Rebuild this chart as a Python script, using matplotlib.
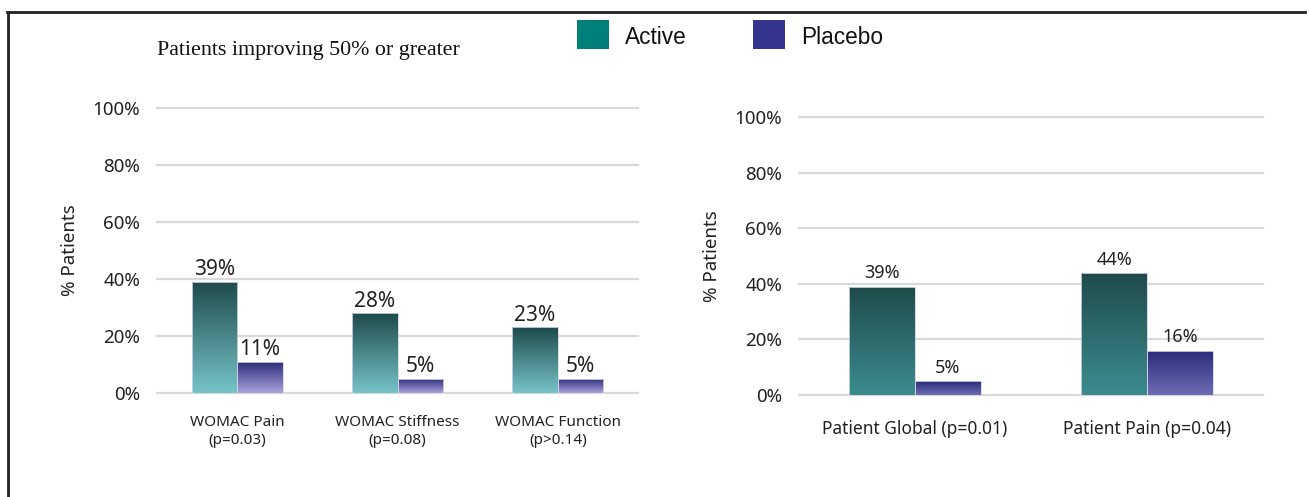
import numpy as np
import matplotlib.pyplot as plt
from matplotlib.patches import Rectangle
from matplotlib.colors import LinearSegmentedColormap
from matplotlib.lines import Line2D

# data
left_cats = ['WOMAC Pain\n(p=0.03)', 'WOMAC Stiffness\n(p=0.08)', 'WOMAC Function\n(p>0.14)']
left_active = [39, 28, 23]
left_placebo = [11, 5, 5]

right_cats = ['Patient Global (p=0.01)', 'Patient Pain (p=0.04)']
right_active = [39, 44]
right_placebo = [5, 16]

yticks = [0, 20, 40, 60, 80, 100]
legend_labels = ['Active', 'Placebo']
legend_colors = ['#007f7b', '#35358f']

SANS = 'Noto Sans'
TXT = '#222222'
W, H = 1309, 497


def grad_bars(ax, x, vals, width, top, bottom):
    bars = ax.bar(x, vals, width, color=top, edgecolor='none', zorder=2)
    cmap = LinearSegmentedColormap.from_list('g', [bottom, top])
    g = np.linspace(0, 1, 256).reshape(-1, 1)
    for b in bars:
        x0, y0 = b.get_x(), b.get_y()
        w, h = b.get_width(), b.get_height()
        im = ax.imshow(g, cmap=cmap, origin='lower', aspect='auto',
                       extent=[x0, x0 + w, y0, y0 + h], zorder=3)
        im.set_clip_path(b)
    ax.bar(x, vals, width, color='none', edgecolor='#cfd6e8', linewidth=0.6, zorder=4)
    return bars


def setup(ax, cats, xpad, nlim, xfs):
    ax.set_ylim(0, 100)
    ax.set_xlim(-0.5, nlim - 0.5)
    ax.set_yticks(yticks)
    ax.set_yticklabels([f'{t}%' for t in yticks], fontsize=13.5, family=SANS, color=TXT)
    ax.set_xticks(range(len(cats)))
    ax.set_xticklabels(cats, fontsize=xfs, family=SANS, color=TXT, linespacing=1.25)
    ax.tick_params(length=0)
    ax.tick_params(axis='x', pad=xpad)
    ax.tick_params(axis='y', pad=12)
    for s in ax.spines.values():
        s.set_visible(False)
    ax.yaxis.grid(True, color='#d9d9d9', linewidth=1.6)
    ax.set_axisbelow(True)
    for gl in ax.get_ygridlines():
        gl.set_clip_on(False)
    ax.set_ylabel('% Patients', fontsize=13.5, family=SANS, color=TXT, labelpad=10)


fig = plt.figure(figsize=(13.09, 4.97), dpi=100)

# left panel
ax1 = fig.add_axes([157 / W, 104 / H, 481 / W, 285 / H])
w = 0.284
x = np.arange(len(left_cats))
pa = grad_bars(ax1, x - w / 2, left_active, w, '#1e4a4b', '#76c4c8')
pp = grad_bars(ax1, x + w / 2, left_placebo, w, '#2b2a78', '#aaa2dc')
setup(ax1, left_cats, 16, 3, 11)
ax1.bar_label(pa, labels=[f'{v}%' for v in left_active], padding=1, fontsize=15, family=SANS, color=TXT)
ax1.bar_label(pp, labels=[f'{v}%' for v in left_placebo], padding=1, fontsize=15, family=SANS, color=TXT)

# right panel
ax2 = fig.add_axes([799 / W, 102 / H, 464 / W, 278 / H])
x = np.arange(len(right_cats))
ra = grad_bars(ax2, x - w / 2, right_active, w, '#1f4a4b', '#3b8c8e')
rp = grad_bars(ax2, x + w / 2, right_placebo, w, '#2a2a7a', '#6e6cb4')
setup(ax2, right_cats, 18, 2, 12.5)
ax2.bar_label(ra, labels=[f'{v}%' for v in right_active], padding=3, fontsize=13, family=SANS, color=TXT)
ax2.bar_label(rp, labels=[f'{v}%' for v in right_placebo], padding=3, fontsize=13, family=SANS, color=TXT)

fig.text(157 / W, 1 - 51 / H, 'Patients improving 50% or greater', family='Liberation Serif',
         fontsize=15.8, va='center', ha='left', color='#111111')

# legend
for lx, tx, lab, col in zip([577, 753], [625, 801], legend_labels, legend_colors):
    fig.add_artist(Rectangle((lx / W, 1 - 49 / H), 32 / W, 29 / H, transform=fig.transFigure,
                             facecolor=col, edgecolor='none'))
    fig.text(tx / W, 1 - 38 / H, lab, family='Liberation Sans', fontsize=16.3,
             va='center', ha='left', color='#111111')

# frame lines
fig.add_artist(Line2D([7 / W, 1305 / W], [1 - 12 / H, 1 - 12 / H], color='#222222', lw=2))
fig.add_artist(Line2D([8 / W, 8 / W], [1 - 12 / H, 0], color='#222222', lw=2))

fig.savefig('out.png', dpi=100)
